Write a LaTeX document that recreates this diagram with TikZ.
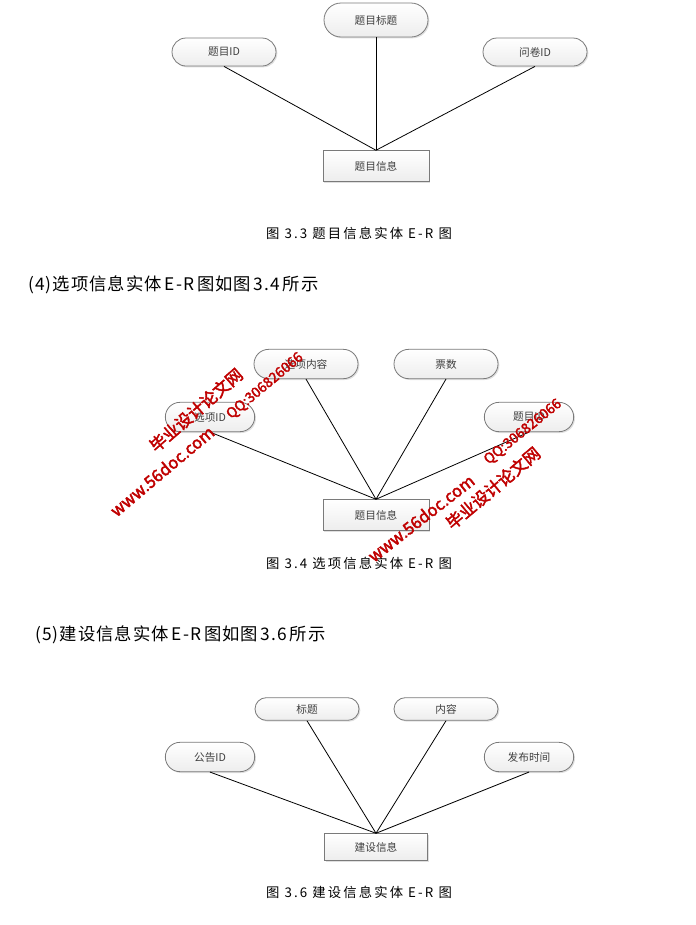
\documentclass[tikz,border=0pt]{standalone}
\usepackage{fontspec}
\setmainfont{Noto Sans CJK SC}
\newfontfamily\cjk{Noto Sans CJK SC}
\newfontfamily\capfont[LetterSpace=16]{Noto Sans CJK SC}
\newfontfamily\headfont[LetterSpace=6]{Noto Sans CJK SC}
\newfontfamily\wmfont[FakeBold=2.5]{Noto Sans CJK SC}
\usetikzlibrary{shadows}
\definecolor{bordergray}{HTML}{7A7A7A}
\definecolor{wmred}{HTML}{C00000}
\tikzset{
  attr/.style={draw=bordergray, line width=0.6pt, rectangle, rounded corners=10.5pt,
    top color=white, bottom color=gray!14,
    drop shadow={opacity=0.25, shadow xshift=1pt, shadow yshift=-1pt},
    minimum width=78pt, minimum height=21pt, inner sep=0pt,
    font=\cjk\fontsize{8}{9}\selectfont, text=black!75},
  tallattr/.style={attr, rounded corners=12.75pt, minimum height=25.5pt},
  narrowattr/.style={attr, minimum width=67pt, minimum height=22pt, rounded corners=11pt},
  ent/.style={draw=bordergray, line width=0.6pt, rectangle,
    top color=white, bottom color=gray!14,
    drop shadow={opacity=0.25, shadow xshift=1pt, shadow yshift=-1pt},
    minimum width=79.5pt, minimum height=23pt, inner sep=0pt,
    font=\cjk\fontsize{8}{9}\selectfont, text=black!75},
  link/.style={draw=black, line width=0.6pt},
  caption/.style={font=\capfont\fontsize{10}{11}\selectfont, text=black, inner sep=0pt},
  heading/.style={font=\headfont\fontsize{13}{15}\selectfont, text=black, inner sep=0pt, anchor=west},
  wm/.style={font=\wmfont\fontsize{12.5}{13}\selectfont, text=wmred, inner sep=0pt},
  wmsmall/.style={font=\wmfont\fontsize{10.5}{11}\selectfont, text=wmred, inner sep=0pt}
}
\begin{document}
\begin{tikzpicture}[x=0.75pt,y=-0.75pt]
\useasboundingbox[fill=white] (0,0) rectangle (696,925);

% ---- Diagram 3.3 ----
\node[tallattr] (a1) at (376,20) {题目标题};
\node[attr] (a2) at (224,52) {题目ID};
\node[attr] (a3) at (535,52) {问卷ID};
\node[ent] (e1) at (376,166) {题目信息};
\draw[link] (a1.south) -- (e1.north);
\draw[link] (a2.south) -- (e1.north);
\draw[link] (a3.south) -- (e1.north);
\node[caption] (c1) at (359,233) {图\ 3.3\ 题目信息实体\ E-R\ 图};

\node[heading] (h4) at (28,285) {(4)选项信息实体\,E-R\,图如图\,3.4\,所示};

% ---- Diagram 3.4 ----
\node[narrowattr, minimum width=78pt] (b1) at (306,364) {选项内容};
\node[narrowattr, minimum width=78pt] (b2) at (446,364) {票数};
\node[narrowattr] (b3) at (210,417) {选项ID};
\node[narrowattr] (b4) at (529,417) {题目ID};
\node[ent] (e2) at (376,515) {题目信息};
\draw[link] (b1.south) -- (e2.north);
\draw[link] (b2.south) -- (e2.north);
\draw[link] (b3.south) -- (e2.north);
\draw[link] (b4.south) -- (e2.north);
\node[caption] (c2) at (359,563) {图\ 3.4\ 选项信息实体\ E-R\ 图};

\node[heading] (h5) at (35,635) {(5)建设信息实体\,E-R\,图如图\,3.6\,所示};

% ---- Diagram 3.6 ----
\node[narrowattr, minimum width=78pt, minimum height=17pt, rounded corners=8.5pt] (d1) at (307,709) {标题};
\node[narrowattr, minimum width=78pt, minimum height=17pt, rounded corners=8.5pt] (d2) at (446,709) {内容};
\node[narrowattr] (d3) at (210,757) {公告ID};
\node[narrowattr] (d4) at (529,757) {发布时间};
\node[ent, minimum width=77pt, minimum height=20pt] (e3) at (376,847) {建设信息};
\draw[link] (d1.south) -- (e3.north);
\draw[link] (d2.south) -- (e3.north);
\draw[link] (d3.south) -- (e3.north);
\draw[link] (d4.south) -- (e3.north);
\node[caption] (c3) at (359,892) {图\ 3.6\ 建设信息实体\ E-R\ 图};

% ---- watermarks ----
\node[wm, rotate=41] (w1) at (196,410) {毕业设计论文网};
\node[wmsmall, rotate=40] (w2) at (265,386) {QQ:306826066};
\node[wm, rotate=40] (w3) at (162,471) {www.56doc.com};
\node[wm, rotate=38] (w4) at (421,518) {www.56doc.com};
\node[wmsmall, rotate=39] (w5) at (523,432) {QQ:306826066};
\node[wm, rotate=40] (w6) at (493,488) {毕业设计论文网};
\end{tikzpicture}
\end{document}
